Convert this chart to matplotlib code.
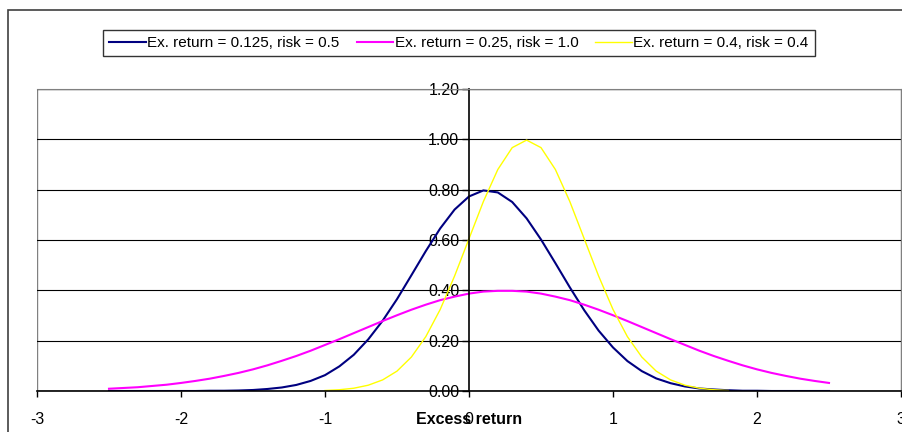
import matplotlib.pyplot as plt
from matplotlib.patches import Rectangle

plt.rcParams["font.family"]=["Liberation Sans","DejaVu Sans"]

# ============================================================
# DADOS
# ============================================================

x_largo=[-2.5,-2.4,-2.3,-2.2,-2.1,-2.0,-1.9,-1.8,-1.7,-1.6,
         -1.5,-1.4,-1.3,-1.2,-1.1,-1.0,-0.9,-0.8,-0.7,-0.6,
         -0.5,-0.4,-0.3,-0.2,-0.1,0.0,0.1,0.2,0.3,0.4,
         0.5,0.6,0.7,0.8,0.9,1.0,1.1,1.2,1.3,1.4,
         1.5,1.6,1.7,1.8,1.9,2.0,2.1,2.2,2.3,2.4,2.5]

y_azul=[0.000,0.000,0.000,0.000,0.000,0.000,0.000,0.001,0.001,0.002,
        0.004,0.008,0.014,0.024,0.040,0.063,0.098,0.144,0.205,0.279,
        0.365,0.460,0.556,0.646,0.721,0.773,0.797,0.789,0.751,0.686,
        0.602,0.508,0.412,0.321,0.240,0.173,0.119,0.079,0.050,0.031,
        0.018,0.010,0.006,0.003,0.001,0.001,0.000,0.000,0.000,0.000,0.000]

y_magenta=[0.009,0.012,0.015,0.020,0.025,0.032,0.040,0.049,0.060,0.072,
           0.086,0.102,0.120,0.139,0.160,0.183,0.206,0.230,0.254,0.278,
           0.301,0.323,0.343,0.361,0.375,0.387,0.395,0.398,0.398,0.395,
           0.387,0.375,0.361,0.343,0.323,0.301,0.278,0.254,0.230,0.206,
           0.183,0.160,0.139,0.120,0.102,0.086,0.072,0.060,0.049,0.040,0.032]

x_curto=[-1.0,-0.9,-0.8,-0.7,-0.6,-0.5,-0.4,-0.3,-0.2,-0.1,
         0.0,0.1,0.2,0.3,0.4,0.5,0.6,0.7,0.8,0.9,
         1.0,1.1,1.2,1.3,1.4,1.5,1.6,1.7,1.8]

y_amarelo=[0.002,0.005,0.011,0.023,0.044,0.079,0.135,0.216,0.324,0.457,
           0.605,0.753,0.880,0.967,0.997,0.967,0.880,0.753,0.605,0.457,
           0.324,0.216,0.135,0.079,0.044,0.023,0.011,0.005,0.002]

rotulos=["Ex. return = 0.125, risk = 0.5",
         "Ex. return = 0.25, risk = 1.0",
         "Ex. return = 0.4, risk = 0.4"]

x_ticks=[-3,-2,-1,0,1,2,3]
y_ticks=[0.0,0.2,0.4,0.6,0.8,1.0,1.2]


# ============================================================
# FIGURA
# ============================================================

fig=plt.figure(figsize=(9.03,4.32),dpi=100)

# borda externa do grafico
fig.patches.append(Rectangle(
    (8/903,-0.05),1.0,1-10/432+0.05,
    transform=fig.transFigure,fill=False,
    edgecolor="#404040",linewidth=1.2
))

ax=fig.add_axes([37/903,41/432,864/903,302/432])

ax.plot(x_largo,y_azul,color="#000080",linewidth=1.5,label=rotulos[0])
ax.plot(x_largo,y_magenta,color="#ff00ff",linewidth=1.5,label=rotulos[1])
ax.plot(x_curto,y_amarelo,color="#ffff00",linewidth=1.0,label=rotulos[2])

ax.set_xlim(-3,3)
ax.set_ylim(0,1.2)

ax.set_xticks(x_ticks)
ax.set_xticklabels([str(t) for t in x_ticks])
ax.set_yticks(y_ticks)
ax.set_yticklabels([f"{t:.2f}" for t in y_ticks])

ax.grid(axis="y",color="black",linewidth=0.8)
ax.set_axisbelow(True)

# eixo y no zero
ax.spines["left"].set_position(("data",0))
ax.spines["left"].set_linewidth(1.2)
ax.spines["bottom"].set_linewidth(1.2)
ax.spines["top"].set_color("#808080")
ax.spines["right"].set_color("#808080")

# borda da area de plotagem
ax.add_patch(Rectangle((0,0),1,1,transform=ax.transAxes,fill=False,
                       edgecolor="#808080",linewidth=1.0,zorder=0))

ax.tick_params(axis="y",direction="out",length=5,width=1,pad=2,labelsize=11.5)
ax.tick_params(axis="x",direction="out",length=4,width=1,pad=11,labelsize=11.5)

fig.text(469.5/903,(432-420)/432,"Excess return",ha="center",va="center",
         fontsize=11.5,fontweight="bold")

leg=fig.legend(
    loc="center",
    bbox_to_anchor=(459/903,1-43/432),
    ncol=3,
    fontsize=11,
    frameon=True,
    fancybox=False,
    edgecolor="black",
    handlelength=2.4,
    handletextpad=0.1,
    columnspacing=1.1,
    borderpad=0.4,
    borderaxespad=0
)
leg.get_frame().set_linewidth(1.0)

plt.savefig("out.png",dpi=100)
plt.close()
